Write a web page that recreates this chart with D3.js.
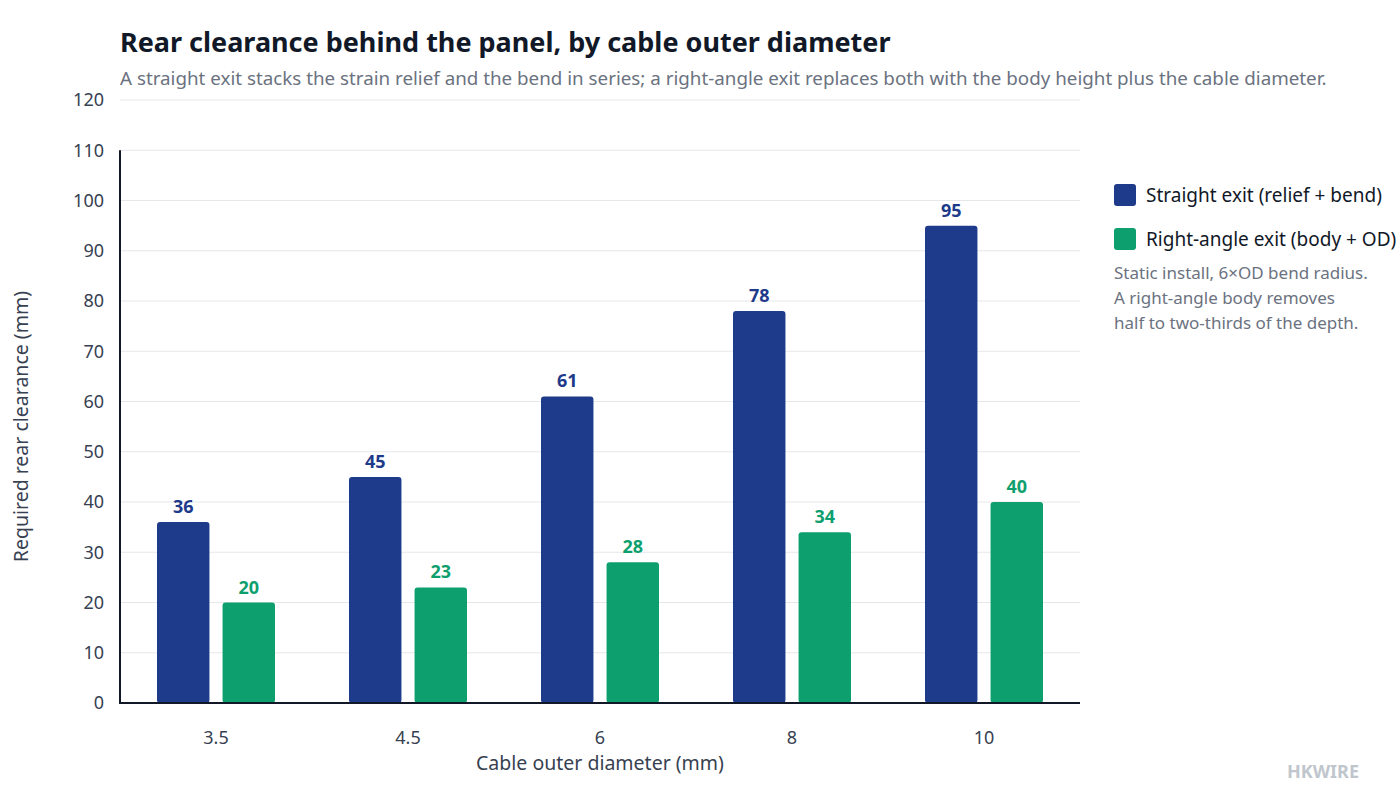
<!DOCTYPE html>
<html>
<head>
<meta charset="utf-8">
<script src="https://cdn.jsdelivr.net/npm/d3@7"></script>
<style>
  body { margin: 0; background: #fff; }
  svg { font-family: "Segoe UI", "Noto Sans", "Open Sans", sans-serif; }
</style>
</head>
<body>
<div id="chart"></div>
<script>
const diameters = ['3.5', '4.5', '6', '8', '10'];
const straightExit = [36, 45, 61, 78, 95];
const rightAngleExit = [20, 23, 28, 34, 40];
const seriesNames = ['Straight exit (relief + bend)', 'Right-angle exit (body + OD)'];
const yTicks = [0, 10, 20, 30, 40, 50, 60, 70, 80, 90, 100, 110, 120];
const noteLines = ['Static install, 6\u00d7OD bend radius.', 'A right-angle body removes', 'half to two-thirds of the depth.'];

const colors = ['#1e3a8a', '#0e9f6e'];
const width = 1400, height = 800;
const margin = { left: 120, right: 320, top: 100, bottom: 97 };

const svg = d3.select('#chart').append('svg')
  .attr('width', width)
  .attr('height', height);

const x0 = d3.scaleBand()
  .domain(diameters)
  .range([margin.left, width - margin.right]);

const x1 = d3.scaleBand()
  .domain([0, 1])
  .range([0, 118])
  .paddingInner(0.2);

const y = d3.scaleLinear()
  .domain([0, 120])
  .range([height - margin.bottom, margin.top]);

// grid
svg.append('g')
  .selectAll('line')
  .data(yTicks.filter(d => d > 0))
  .enter()
  .append('line')
  .attr('x1', margin.left)
  .attr('x2', width - margin.right)
  .attr('y1', d => y(d))
  .attr('y2', d => y(d))
  .attr('stroke', '#e5e7eb')
  .attr('stroke-width', 1);

// y tick labels
svg.append('g')
  .selectAll('text')
  .data(yTicks)
  .enter()
  .append('text')
  .attr('x', margin.left - 16)
  .attr('y', d => y(d))
  .attr('dy', '0.35em')
  .attr('text-anchor', 'end')
  .style('font-size', '18px')
  .style('fill', '#374151')
  .text(d => d);

// bars
const groups = svg.append('g')
  .selectAll('g')
  .data(diameters)
  .enter()
  .append('g')
  .attr('transform', d => `translate(${x0(d) + x0.bandwidth() / 2 - 59},0)`);

const rows = (d, i) => [straightExit[i], rightAngleExit[i]];

groups.selectAll('rect')
  .data(rows)
  .enter()
  .append('rect')
  .attr('x', (d, j) => x1(j))
  .attr('y', d => y(d))
  .attr('width', x1.bandwidth())
  .attr('height', d => y(0) - y(d))
  .attr('rx', 3)
  .attr('fill', (d, j) => colors[j]);

groups.selectAll('text')
  .data(rows)
  .enter()
  .append('text')
  .attr('x', (d, j) => x1(j) + x1.bandwidth() / 2)
  .attr('y', d => y(d) - 9)
  .attr('text-anchor', 'middle')
  .style('font-size', '18px')
  .style('font-weight', 'bold')
  .style('fill', (d, j) => colors[j])
  .text(d => d);

// axes lines
svg.append('line')
  .attr('x1', margin.left).attr('x2', margin.left)
  .attr('y1', y(110)).attr('y2', y(0))
  .attr('stroke', '#111827').attr('stroke-width', 2);
svg.append('line')
  .attr('x1', margin.left - 1).attr('x2', width - margin.right)
  .attr('y1', y(0)).attr('y2', y(0))
  .attr('stroke', '#111827').attr('stroke-width', 2);

// x tick labels
svg.append('g')
  .selectAll('text')
  .data(diameters)
  .enter()
  .append('text')
  .attr('x', d => x0(d) + x0.bandwidth() / 2)
  .attr('y', y(0) + 41)
  .attr('text-anchor', 'middle')
  .style('font-size', '18px')
  .style('fill', '#374151')
  .text(d => d);

// axis titles
svg.append('text')
  .attr('x', (margin.left + width - margin.right) / 2)
  .attr('y', 770)
  .attr('text-anchor', 'middle')
  .style('font-size', '19.5px')
  .style('fill', '#374151')
  .text('Cable outer diameter (mm)');

svg.append('text')
  .attr('transform', `translate(28,${(y(0) + y(110)) / 2}) rotate(-90)`)
  .attr('text-anchor', 'middle')
  .style('font-size', '19.5px')
  .style('fill', '#374151')
  .text('Required rear clearance (mm)');

// title
svg.append('text')
  .attr('x', 120).attr('y', 52)
  .style('font-size', '27px')
  .style('font-weight', 'bold')
  .style('fill', '#111827')
  .text('Rear clearance behind the panel, by cable outer diameter');

svg.append('text')
  .attr('x', 120).attr('y', 85)
  .style('font-size', '18.8px')
  .style('fill', '#6b7280')
  .text('A straight exit stacks the strain relief and the bend in series; a right-angle exit replaces both with the body height plus the cable diameter.');

// legend
const legend = svg.append('g')
  .selectAll('g')
  .data(seriesNames)
  .enter()
  .append('g')
  .attr('transform', (d, i) => `translate(1114,${184 + i * 44})`);

legend.append('rect')
  .attr('width', 22).attr('height', 22).attr('rx', 3)
  .attr('fill', (d, i) => colors[i]);

legend.append('text')
  .attr('x', 32).attr('y', 11).attr('dy', '0.35em')
  .style('font-size', '19px')
  .style('fill', '#111827')
  .text(d => d);

svg.append('g')
  .selectAll('text')
  .data(noteLines)
  .enter()
  .append('text')
  .attr('x', 1114)
  .attr('y', (d, i) => 279 + i * 25)
  .style('font-size', '17px')
  .style('fill', '#6b7280')
  .text(d => d);

svg.append('text')
  .attr('x', 1359).attr('y', 778)
  .attr('text-anchor', 'end')
  .style('font-size', '18px')
  .style('font-weight', 'bold')
  .style('fill', '#c0c6cd')
  .text('HKWIRE');
</script>
</body>
</html>
